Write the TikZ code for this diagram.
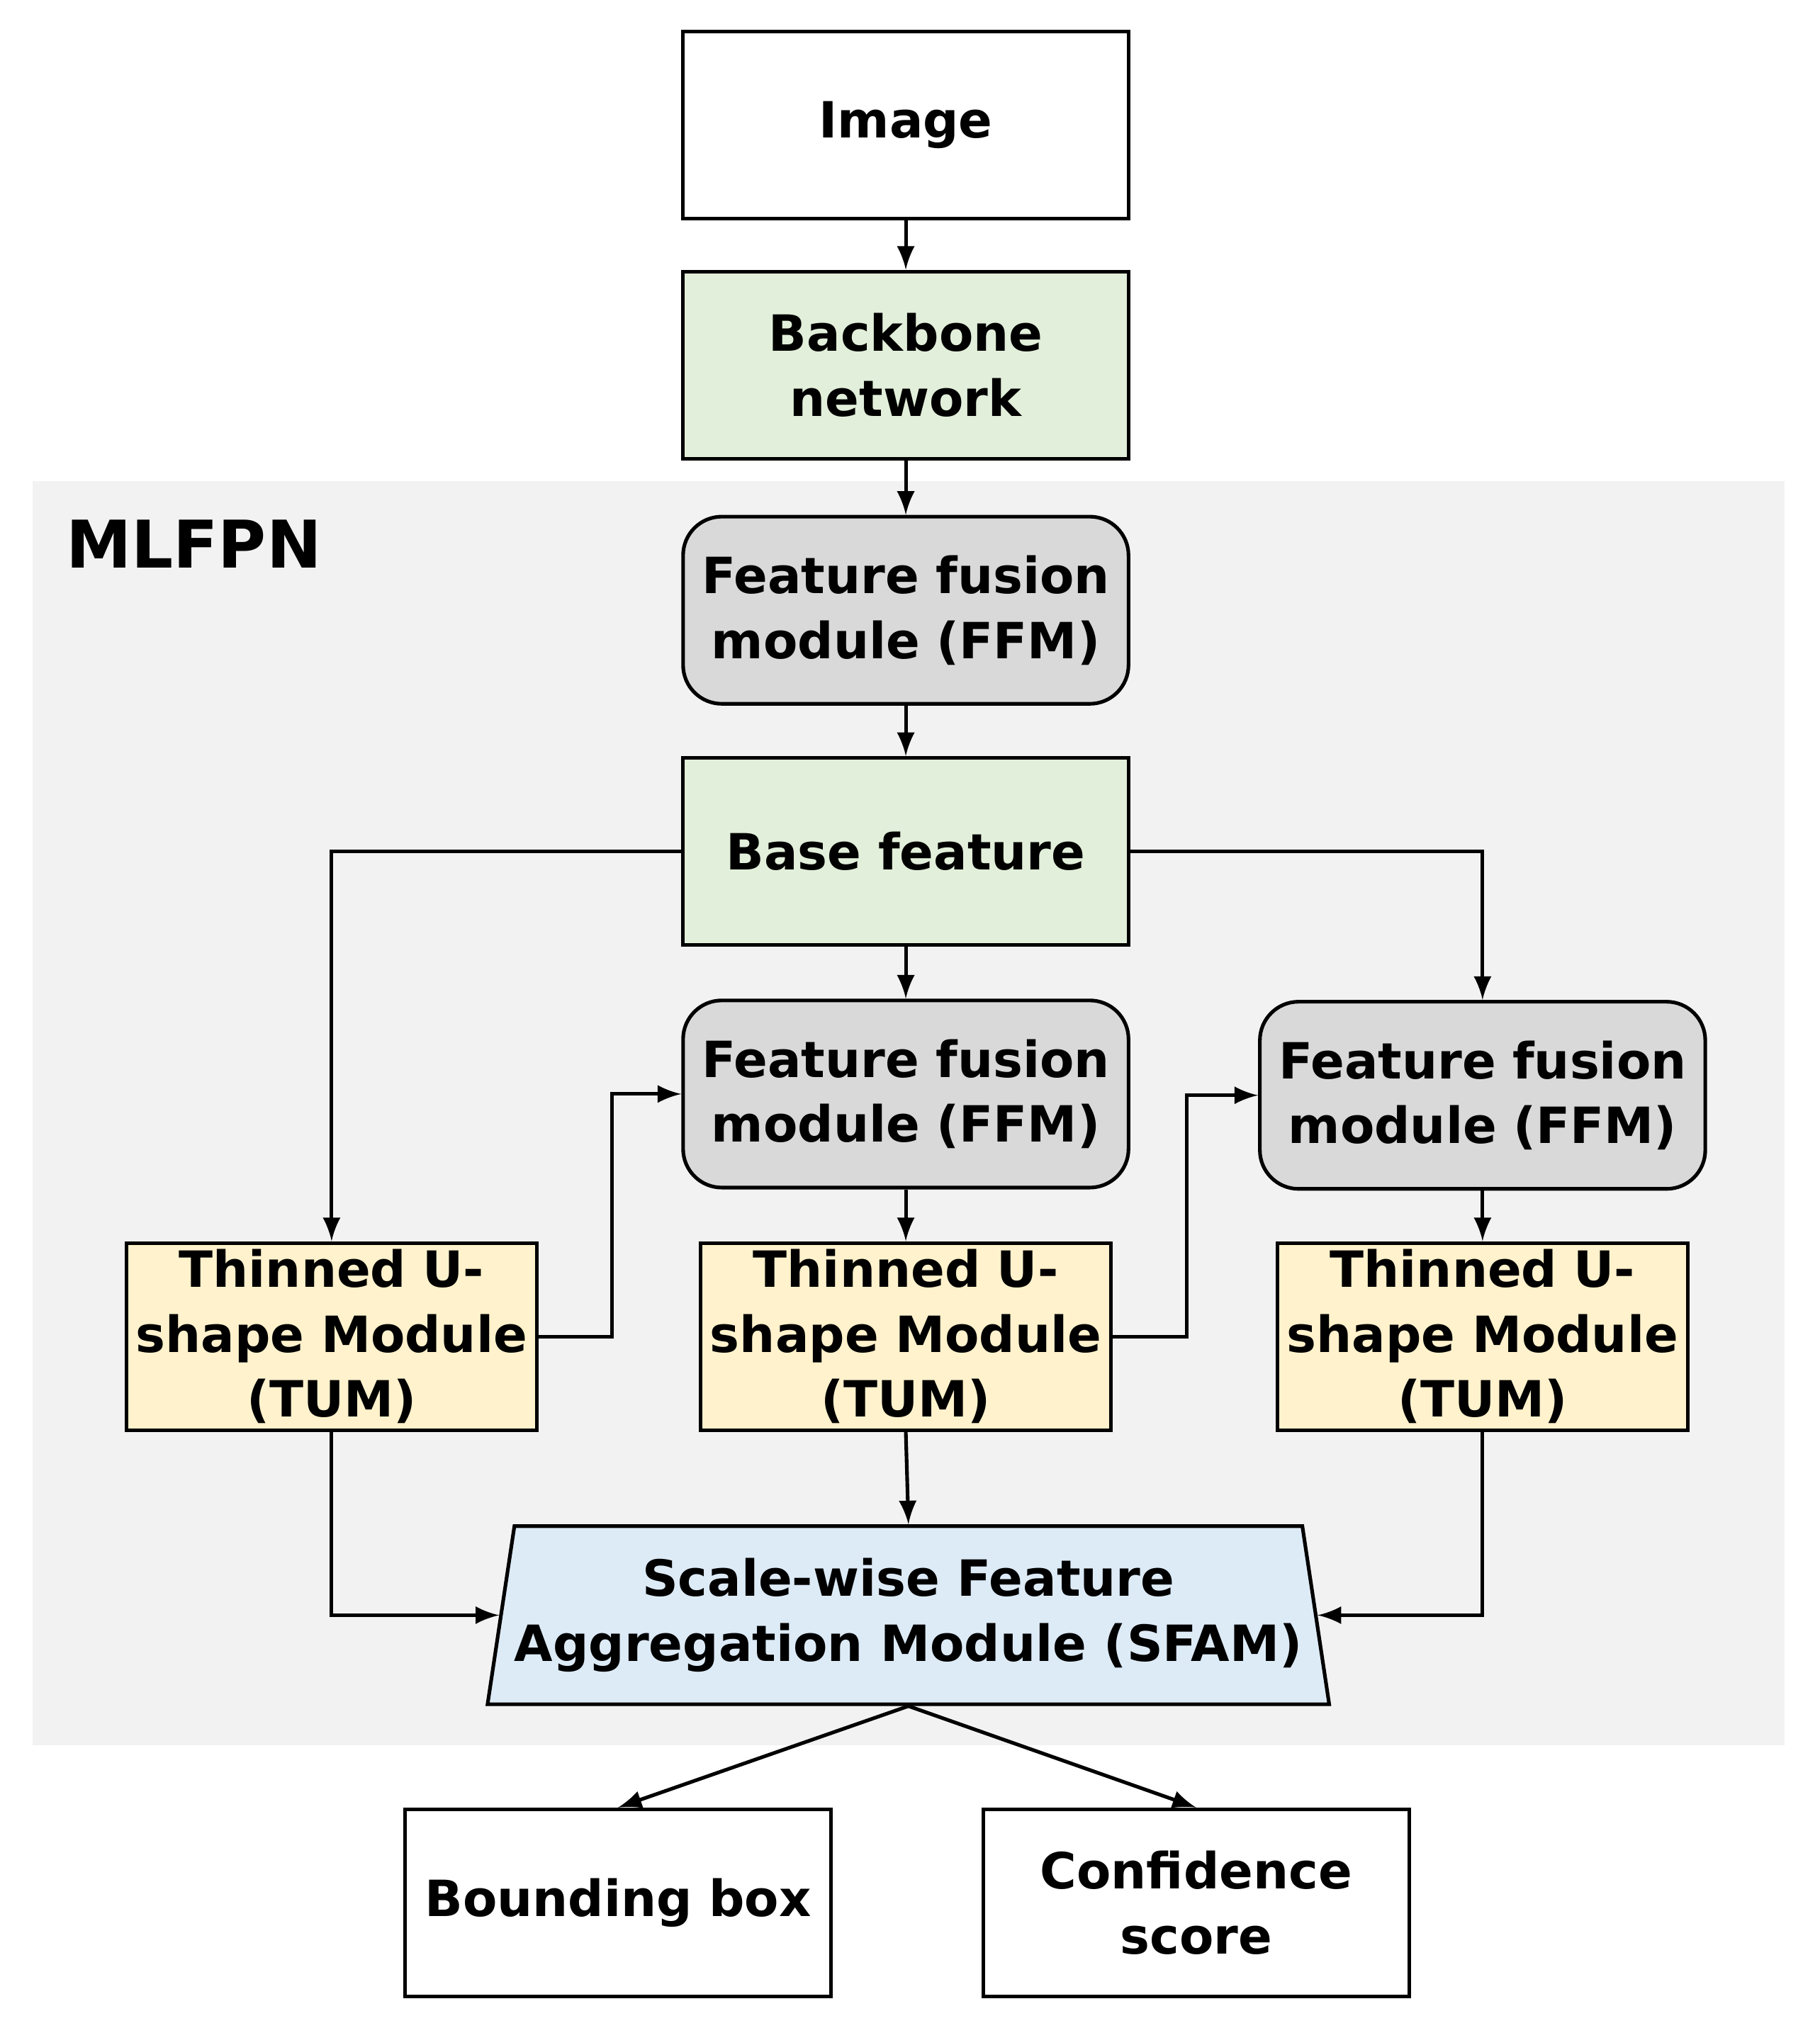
\documentclass[tikz,border=0pt]{standalone}
\usepackage{fontspec}
\setmainfont{DejaVu Sans}
\usetikzlibrary{shapes, arrows, positioning, calc}
\definecolor{bbgreen}{HTML}{E2EFDA}
\definecolor{tumyellow}{HTML}{FFF2CC}
\definecolor{sfamblue}{HTML}{DDEBF7}
\definecolor{ffmgray}{HTML}{D9D9D9}
\definecolor{bggray}{HTML}{F2F2F2}

\begin{document}
\begin{tikzpicture}[x=0.01cm, y=-0.01cm, >=latex, line width=0.8pt,
    font=\fontsize{11}{14.3}\selectfont\bfseries]
    \tikzstyle{block} = [rectangle, draw, text width=3.3cm, align=center, minimum width=3.45cm, minimum height=1.45cm, inner sep=0pt]
    \tikzstyle{ffm} = [block, rounded corners=0.3cm, fill=ffmgray]
    \tikzstyle{tum} = [block, fill=tumyellow, minimum width=3.18cm, text width=3.1cm]
    \tikzstyle{green} = [fill=bbgreen]

    \useasboundingbox (0,0) rectangle (1410,1572);
    \fill[bggray] (25,373) rectangle (1383,1353);
    \node[anchor=north west, font=\fontsize{14.5}{17}\selectfont\bfseries] (mlfpn) at (38,390) {MLFPN};

    \node [block] (img) at (702,97) {Image};
    \node [block, green] (bb) at (702,283) {Backbone\\network};
    \node [ffm] (ffm1) at (702,473) {Feature fusion\\module (FFM)};
    \node [block, green] (base) at (702,660) {Base feature};
    \node [ffm] (ffm2) at (702,848) {Feature fusion\\module (FFM)};
    \node [ffm] (ffm3) at (1149,849) {Feature fusion\\module (FFM)};
    \node [tum] (tum1) at (257,1036) {Thinned U-\\shape Module\\(TUM)};
    \node [tum] (tum2) at (702,1036) {Thinned U-\\shape Module\\(TUM)};
    \node [tum] (tum3) at (1149,1036) {Thinned U-\\shape Module\\(TUM)};
    \node [trapezium, draw, fill=sfamblue, trapezium stretches=true, trapezium angle=76.7,
        minimum width=6.17cm, minimum height=1.38cm, align=center, inner sep=0pt] (sfam) at (704,1252)
        {Scale-wise Feature\\Aggregation Module (SFAM)};
    \node [block, minimum width=3.18cm] (bbox) at (479,1475) {Bounding box};
    \node [block, minimum width=3.18cm] (conf) at (927,1475) {Confidence\\score};

    % Connections
    \draw[->] (img) -- (bb);
    \draw[->] (bb) -- (ffm1);
    \draw[->] (ffm1) -- (base);
    \draw[->] (base) -- (ffm2);
    \draw[->] (base.west) -| (tum1.north);
    \draw[->] (base.east) -| (ffm3.north);
    \draw[->] (ffm2) -- (tum2);
    \draw[->] (ffm3) -- (tum3);
    \draw[->] (tum1.east) -- ++(57,0) |- (ffm2.west);
    \draw[->] (tum2.east) -- ++(57,0) |- (ffm3.west);
    \draw[->] (tum2.south) -- (sfam.north);
    \draw[->] (tum1.south) |- (sfam.west);
    \draw[->] (tum3.south) |- (sfam.east);
    \draw[->] (sfam.south) -- (bbox.north);
    \draw[->] (sfam.south) -- (conf.north);
\end{tikzpicture}
\end{document}
